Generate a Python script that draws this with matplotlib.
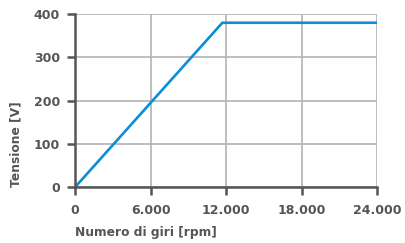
import matplotlib
matplotlib.use("Agg")
import matplotlib.pyplot as plt
from matplotlib.ticker import FuncFormatter

# data
rpm = [0, 11700, 24000]
volt = [0, 380, 380]
xticks = [0, 6000, 12000, 18000, 24000]
yticks = [0, 100, 200, 300, 400]

plt.rcParams['font.family'] = ['DejaVu Sans']
txt = '#555555'

fig = plt.figure(figsize=(4.06, 2.43), dpi=100)
ax = fig.add_axes([0.185, 0.230, 0.744, 0.712])

ax.plot(rpm, volt, color='#0a8fd6', lw=1.9, solid_capstyle='butt', zorder=3)

ax.set_xlim(0, 24000)
ax.set_ylim(0, 400)
ax.set_xticks(xticks)
ax.set_yticks(yticks)
ax.xaxis.set_major_formatter(FuncFormatter(lambda v, p: '{:,}'.format(int(v)).replace(',', '.')))
ax.grid(True, color='#b3b3b3', lw=1.2)
ax.set_axisbelow(True)

for s in ['top', 'right']:
    ax.spines[s].set_visible(False)
for s in ['left', 'bottom']:
    ax.spines[s].set_color('#555555')
    ax.spines[s].set_linewidth(1.8)
    ax.spines[s].set_zorder(4)

ax.tick_params(axis='both', colors='#555555', length=6, width=1.8, labelsize=9, labelcolor=txt)
for lab in ax.get_xticklabels() + ax.get_yticklabels():
    lab.set_fontweight('bold')
ax.tick_params(axis='x', pad=6)
ax.tick_params(axis='y', pad=5)

ax.set_xlabel('Numero di giri [rpm]', fontsize=8.8, fontweight='bold', color=txt, loc='left', labelpad=7)
ax.set_ylabel('Tensione [V]', fontsize=8.8, fontweight='bold', color=txt, loc='bottom', labelpad=8)

fig.savefig('out.png', dpi=100)
